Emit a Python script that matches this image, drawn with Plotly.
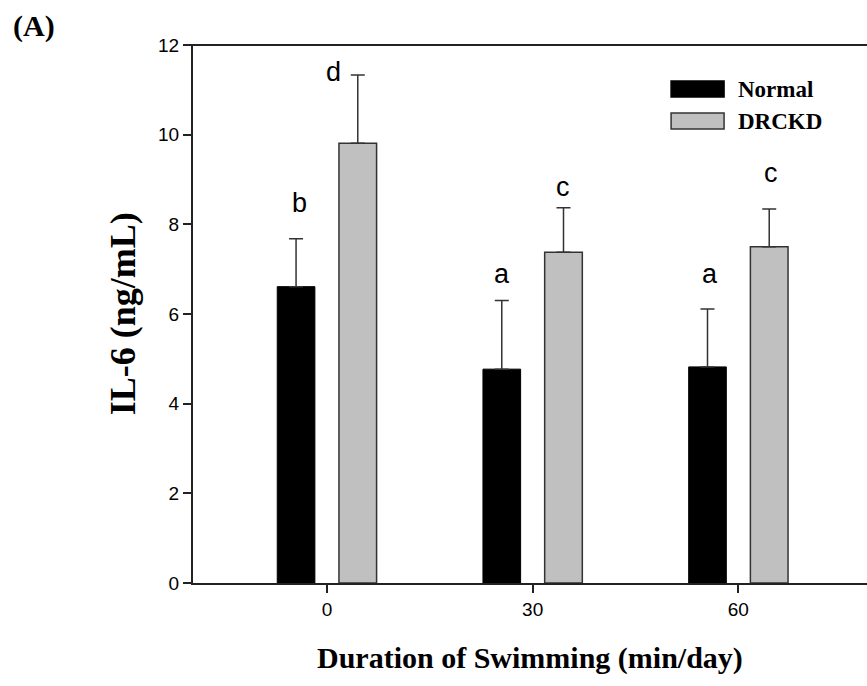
import plotly.graph_objects as go

# Swimming duration groups (min/day) and IL-6 results
durations = [0, 30, 60]
normal_mean = [6.61, 4.77, 4.82]
normal_err = [1.07, 1.53, 1.29]
drckd_mean = [9.81, 7.38, 7.50]
drckd_err = [1.52, 0.99, 0.84]

# significance letters and where they sit (data units)
sig_letters = ["b", "d", "a", "c", "a", "c"]
sig_x = [-4.0, 0.9, 25.6, 34.4, 55.9, 64.8]
sig_y = [8.48, 11.4, 6.90, 8.84, 6.90, 9.15]

y_ticks = [0, 2, 4, 6, 8, 10, 12]

SERIF = "Liberation Serif, Times New Roman, serif"
SANS = "Liberation Sans, Arial, sans-serif"
GRAY = "#c0c0c0"
EDGE = "#333333"

# plot-area geometry in pixels, used to place paper-referenced extras
PL, PR, PT, PB = 192.7, 867.0, 45.0, 582.7
PW, PH = PR - PL, PB - PT


def px_x(x):
    return (x - PL) / PW


def px_y(y):
    return (PB - y) / PH


fig = go.Figure()

fig.add_trace(go.Bar(
    x=durations, y=normal_mean, name="Normal",
    marker=dict(color="#000000", line=dict(color="#000000", width=1)),
    error_y=dict(type="data", array=normal_err, arrayminus=[0, 0, 0],
                 symmetric=False, color=EDGE, thickness=1.5, width=7),
))
fig.add_trace(go.Bar(
    x=durations, y=drckd_mean, name="DRCKD",
    marker=dict(color=GRAY, line=dict(color=EDGE, width=1.5)),
    error_y=dict(type="data", array=drckd_err, arrayminus=[0, 0, 0],
                 symmetric=False, color=EDGE, thickness=1.5, width=7),
))

annotations = []
for t, xx, yy in zip(sig_letters, sig_x, sig_y):
    annotations.append(dict(x=xx, y=yy, xref="x", yref="y", text=t,
                            showarrow=False, xanchor="center", yanchor="middle",
                            font=dict(family=SANS, size=27, color="#000")))

# axis titles
annotations.append(dict(x=0.5, y=px_y(658), xref="paper", yref="paper",
                        text="<b>Duration of Swimming (min/day)</b>",
                        showarrow=False, xanchor="center", yanchor="middle",
                        font=dict(family=SERIF, size=30, color="#000")))
annotations.append(dict(x=px_x(123), y=0.5, xref="paper", yref="paper",
                        text="<b>IL-6 (ng/mL)</b>", textangle=-90,
                        showarrow=False, xanchor="center", yanchor="middle",
                        font=dict(family=SERIF, size=36, color="#000")))
# panel tag
annotations.append(dict(x=px_x(11), y=px_y(26), xref="paper", yref="paper",
                        text="<b>(A)</b>", showarrow=False,
                        xanchor="left", yanchor="middle",
                        font=dict(family=SERIF, size=30, color="#000")))

# legend entries drawn as boxes + labels
legend_items = [("Normal", "#000000", "#000000"), ("DRCKD", GRAY, EDGE)]
shapes = []
for i, (label, fill, edge) in enumerate(legend_items):
    y_top = 81 + i * 32
    y_bot = y_top + 16
    shapes.append(dict(type="rect", xref="paper", yref="paper",
                       x0=px_x(671), x1=px_x(724),
                       y0=px_y(y_bot), y1=px_y(y_top),
                       fillcolor=fill, line=dict(color=edge, width=1.5)))
    annotations.append(dict(x=px_x(736), y=px_y(y_top + 8),
                            xref="paper", yref="paper", text=f"<b>{label}</b>",
                            showarrow=False, xanchor="left", yanchor="middle",
                            font=dict(family=SERIF, size=23, color="#000")))

# top frame line
shapes.append(dict(type="line", xref="paper", yref="paper", x0=px_x(185), x1=1,
                   y0=1, y1=1, line=dict(color="#222", width=2)))

fig.update_layout(
    width=867, height=686,
    margin=dict(l=193, r=0, t=45, b=103),
    paper_bgcolor="white", plot_bgcolor="white",
    barmode="group", bargap=0.4, bargroupgap=0.39,
    showlegend=False,
    annotations=annotations, shapes=shapes,
    xaxis=dict(range=[-19.53, 78.76], tickvals=durations,
               ticktext=[str(d) for d in durations],
               showline=True, linecolor="#222", linewidth=2,
               ticks="outside", ticklen=8, tickwidth=1.5, tickcolor="#222",
               showgrid=False, zeroline=False,
               tickfont=dict(family=SANS, size=19, color="#000")),
    yaxis=dict(range=[0, 12], tickvals=y_ticks,
               showline=True, linecolor="#222", linewidth=2,
               ticks="outside", ticklen=8, tickwidth=1.5, tickcolor="#222",
               showgrid=False, zeroline=False,
               tickfont=dict(family=SANS, size=19, color="#000")),
)

fig.write_html("out.html")
